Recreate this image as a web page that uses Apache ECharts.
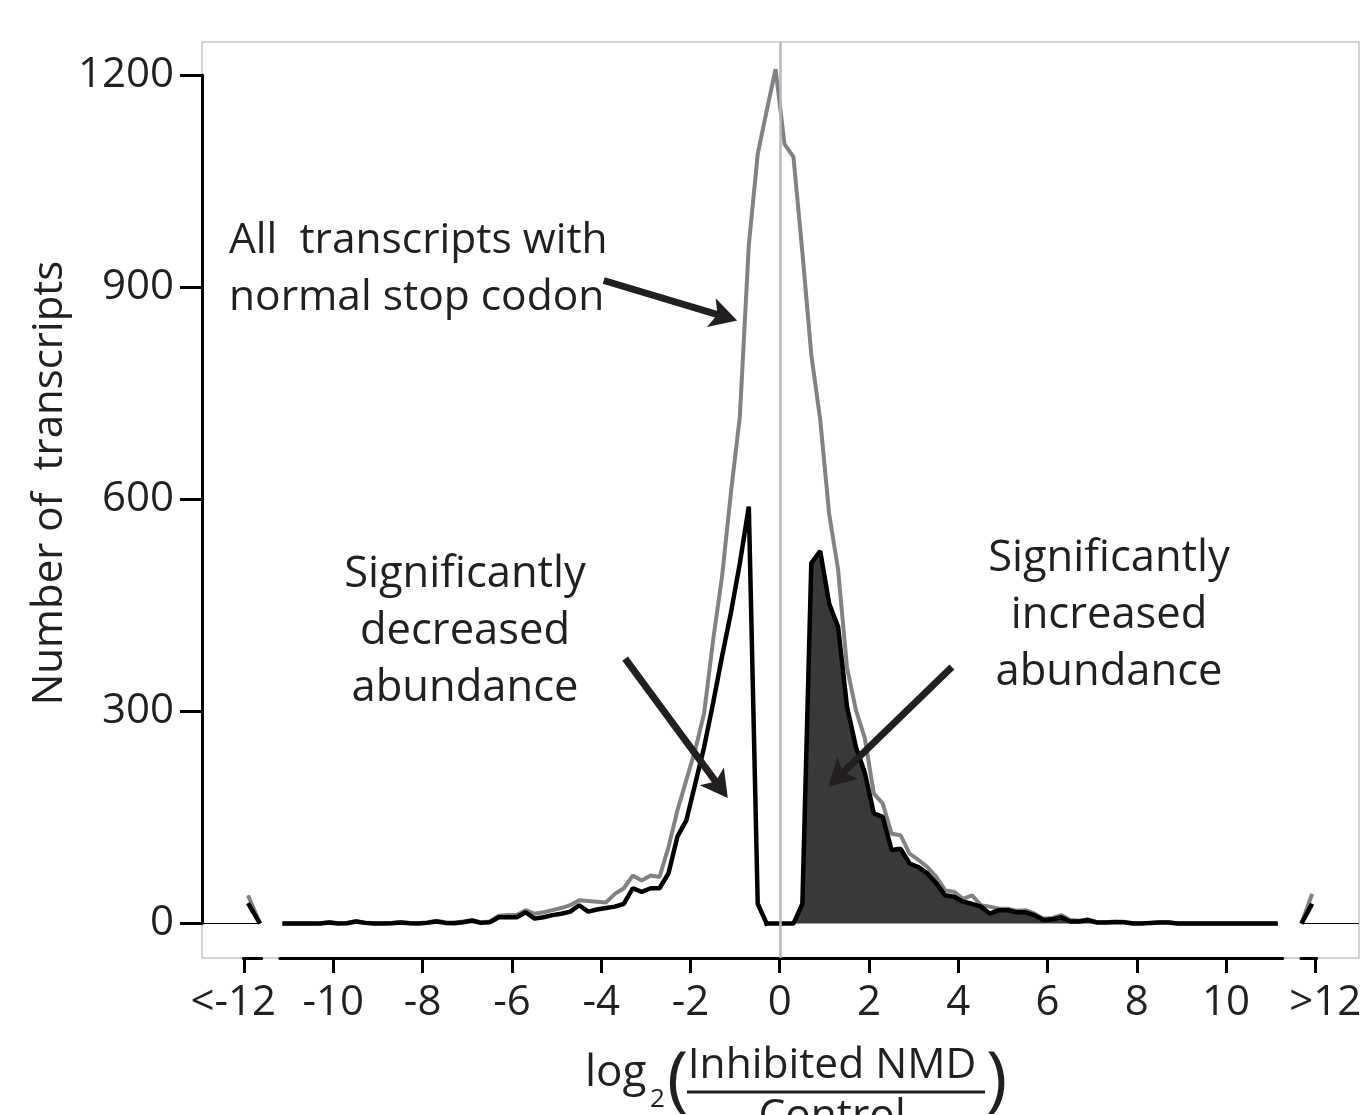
<!DOCTYPE html>
<html>
<head>
<meta charset="utf-8">
<title>log2 NMD ratio histogram</title>
<script src="https://cdn.jsdelivr.net/npm/echarts@6/dist/echarts.min.js"></script>
<style>
  html, body { margin: 0; padding: 0; background: #fff; }
  #chart { width: 1368px; height: 1115px; }
</style>
</head>
<body>
<div id="chart"></div>
<script>
// bin centres, log2(Inhibited NMD / Control), bins 0.2 wide
const binCenters = [
  -11.1, -10.9, -10.7, -10.5, -10.3, -10.1, -9.9, -9.7, -9.5, -9.3,
  -9.1, -8.9, -8.7, -8.5, -8.3, -8.1, -7.9, -7.7, -7.5, -7.3,
  -7.1, -6.9, -6.7, -6.5, -6.3, -6.1, -5.9, -5.7, -5.5, -5.3,
  -5.1, -4.9, -4.7, -4.5, -4.3, -4.1, -3.9, -3.7, -3.5, -3.3,
  -3.1, -2.9, -2.7, -2.5, -2.3, -2.1, -1.9, -1.7, -1.5, -1.3,
  -1.1, -0.9, -0.7, -0.5, -0.3, -0.1, 0.1, 0.3, 0.5, 0.7,
  0.9, 1.1, 1.3, 1.5, 1.7, 1.9, 2.1, 2.3, 2.5, 2.7,
  2.9, 3.1, 3.3, 3.5, 3.7, 3.9, 4.1, 4.3, 4.5, 4.7,
  4.9, 5.1, 5.3, 5.5, 5.7, 5.9, 6.1, 6.3, 6.5, 6.7,
  6.9, 7.1, 7.3, 7.5, 7.7, 7.9, 8.1, 8.3, 8.5, 8.7,
  8.9, 9.1, 9.3, 9.5, 9.7, 9.9, 10.1, 10.3, 10.5, 10.7,
  10.9, 11.1
]

// all transcripts with normal stop codon (grey line)
const allCounts = [
  0, 0, 0, 0, 0.5, 2, 0.5, 1, 3.5, 1.5,
  0.5, 0.5, 1, 2, 1, 0.5, 2, 4, 2, 1.5,
  3, 5, 2, 3, 11, 12, 12, 19, 14, 16,
  19, 22, 26, 33, 32, 31, 30, 42, 50, 68,
  61, 68, 66, 108, 160, 203, 246, 298, 401, 491,
  610, 718, 960, 1089, 1150, 1209, 1103, 1085, 950, 805,
  713, 580, 501, 362, 302, 262, 184, 170, 127, 125,
  99, 90, 80, 66, 47, 45, 35, 40, 26, 24,
  21, 21, 18, 19, 14, 7, 8, 12, 5, 4,
  6, 2, 2, 3, 2.5, 0.5, 0.5, 1, 2, 2,
  0, 0, 0, 0, 0, 0, 0, 0, 0, 0,
  0, 0
]

// significantly changed transcripts (black line)
const sigCounts = [
  0, 0, 0, 0, 0, 1.5, 0, 0.5, 3, 1,
  0, 0, 0.5, 1.5, 0.5, 0, 1, 3, 1, 0.5,
  2, 4, 1, 2, 9, 9, 9, 16, 7, 9,
  12, 14, 17, 26, 17, 20, 22, 24, 28, 50,
  45, 50, 50, 71, 123, 146, 198, 250, 312, 378,
  440, 510, 590, 28, 0, 0, 0, 0, 28, 510,
  527, 453, 420, 307, 250, 213, 156, 151, 104, 106,
  85, 80, 71, 57, 40, 38, 31, 28, 24, 14,
  19, 19, 16, 16, 12, 5, 6, 9, 3, 3,
  5, 1.5, 1.5, 2, 2, 0, 0, 1, 1.5, 1.5,
  0, 0, 0, 0, 0, 0, 0, 0, 0, 0,
  0, 0
]

// the short pieces past the axis breaks (<-12 and >12)
const lowEndX = [-11.92, -11.65]
const lowEndAll = [40, 0]
const lowEndSig = [29, 0]
const highEndX = [11.68, 11.92]
const highEndAll = [0, 42]
const highEndSig = [0, 28]

const xTicks = [-10, -8, -6, -4, -2, 0, 2, 4, 6, 8, 10]
const yTicks = [0, 300, 600, 900, 1200]

// annotation arrows (data coords): tail -> head
const arrowTails = [[-3.95, 910], [-3.47, 375], [3.85, 363]]
const arrowHeads = [[-1.25, 859], [-1.35, 193], [1.30, 207]]

const FONT = 'Open Sans'
const INK = '#231f20'
const GREY = '#808285'
const ARROW_HEAD = 'path://M50,0 L100,92 L50,70 L0,92 Z'

const zip = (xs, ys) => xs.map((x, i) => [x, ys[i]])

const chart = echarts.init(document.getElementById('chart'), null, { renderer: 'canvas' })

const allData = zip(binCenters, allCounts)
const sigData = zip(binCenters, sigCounts)
const sigLeft = sigData.filter(d => d[0] <= -0.3)
const sigRight = sigData.filter(d => d[0] >= -0.3)

const X_MIN = -12.95, X_MAX = 12.97

const lineBase = {
  type: 'line',
  xAxisIndex: 0,
  yAxisIndex: 0,
  symbol: 'none',
  silent: true,
  animation: false
}

const tickLabel = { fontSize: 42, fontFamily: FONT, color: INK }

const option = {
  animation: false,
  grid: [
    // plot box
    { left: 202, right: 9, top: 42, bottom: 157, show: true, borderColor: '#a7a9ac', borderWidth: 1, backgroundColor: 'transparent' },
    // y axis 0..1200
    { left: 202, right: 9, top: 75.3, bottom: 191.7 },
    // x axis pieces: <-12, main, >12
    { left: 243.3, width: 18.4, bottom: 157, height: 10 },
    { left: 279.8, width: 1002.9, bottom: 157, height: 10 },
    { left: 1301, width: 15.6, bottom: 157, height: 10 }
  ],
  xAxis: [
    { gridIndex: 0, type: 'value', min: X_MIN, max: X_MAX, show: false },
    { gridIndex: 1, type: 'value', min: 0, max: 1, show: false },
    {
      gridIndex: 2, type: 'value', min: -12.02, max: -11.61,
      axisLine: { show: true, lineStyle: { color: '#000', width: 3 } },
      axisTick: { show: true, length: 15, lineStyle: { color: '#000', width: 3 }, customValues: [-12] },
      axisLabel: { ...tickLabel, customValues: [-12], formatter: () => '<-12', margin: 24, padding: [0, 22, 0, 0] },
      splitLine: { show: false }
    },
    {
      gridIndex: 3, type: 'value', min: -11.2, max: 11.27,
      axisLine: { show: true, lineStyle: { color: '#000', width: 3 } },
      axisTick: { show: true, length: 15, lineStyle: { color: '#000', width: 3 }, customValues: xTicks },
      axisLabel: { ...tickLabel, customValues: xTicks, formatter: v => String(v), margin: 24 },
      splitLine: { show: false }
    },
    {
      gridIndex: 4, type: 'value', min: 11.68, max: 12.03,
      axisLine: { show: true, lineStyle: { color: '#000', width: 3 } },
      axisTick: { show: true, length: 15, lineStyle: { color: '#000', width: 3 }, customValues: [12] },
      axisLabel: { ...tickLabel, customValues: [12], formatter: () => '>12', margin: 24, padding: [0, 0, 0, 20] },
      splitLine: { show: false }
    }
  ],
  yAxis: [
    { gridIndex: 0, type: 'value', min: -48.7, max: 1247.5, show: false },
    {
      gridIndex: 1, type: 'value', min: 0, max: 1200, interval: 300,
      axisLine: { show: true, lineStyle: { color: '#000', width: 3 } },
      axisTick: { show: true, length: 22, lineStyle: { color: '#000', width: 3 }, customValues: yTicks },
      axisLabel: { ...tickLabel, customValues: yTicks, formatter: v => String(v), margin: 28 },
      splitLine: { show: false }
    },
    { gridIndex: 2, type: 'value', show: false },
    { gridIndex: 3, type: 'value', show: false },
    { gridIndex: 4, type: 'value', show: false }
  ],
  series: [
    {
      ...lineBase,
      name: 'All transcripts',
      z: 2,
      data: allData,
      lineStyle: { color: GREY, width: 4, cap: 'square' },
      markLine: {
        silent: true,
        symbol: 'none',
        label: { show: false },
        lineStyle: { type: 'solid', color: '#000', width: 1.2 },
        data: [
          [{ coord: [X_MIN, 0] }, { coord: [lowEndX[1], 0] }],
          [{ coord: [highEndX[0], 0] }, { coord: [X_MAX, 0] }]
        ]
      }
    },
    { ...lineBase, z: 2, data: zip(lowEndX, lowEndAll), lineStyle: { color: GREY, width: 4 } },
    { ...lineBase, z: 2, data: zip(highEndX, highEndAll), lineStyle: { color: GREY, width: 4 } },
    {
      ...lineBase,
      name: 'Significantly increased',
      z: 3,
      data: sigRight,
      lineStyle: { color: '#000', width: 4.5, cap: 'square' },
      areaStyle: { color: '#383a3a', opacity: 1 }
    },
    {
      ...lineBase,
      name: 'Significantly decreased',
      z: 3,
      data: sigLeft,
      lineStyle: { color: '#000', width: 4.5, cap: 'square' }
    },
    { ...lineBase, z: 3, data: zip(lowEndX, lowEndSig), lineStyle: { color: '#000', width: 4.5 } },
    {
      ...lineBase,
      z: 3,
      data: zip(highEndX, highEndSig),
      lineStyle: { color: '#000', width: 4.5 },
      markLine: {
        silent: true,
        symbol: 'none',
        label: { show: false },
        data: [
          { xAxis: 0, lineStyle: { type: 'solid', color: '#b6b8ba', width: 2.5 } },
          ...arrowTails.map((t, i) => [
            { coord: t, symbol: 'none', lineStyle: { type: 'solid', color: INK, width: 7 } },
            { coord: arrowHeads[i], symbol: ARROW_HEAD, symbolSize: [30, 27] }
          ])
        ]
      }
    }
  ],
  graphic: [
    {
      type: 'text', x: 50, y: 483, rotation: Math.PI / 2, silent: true,
      style: { text: 'Number of  transcripts', fontSize: 42, fontFamily: FONT, fill: INK, align: 'center', verticalAlign: 'middle' }
    },
    {
      type: 'text', x: 229, y: 269, silent: true,
      style: { text: 'All  transcripts with\nnormal stop codon', fontSize: 42.5, lineHeight: 57, fontFamily: FONT, fill: INK, align: 'left', verticalAlign: 'middle' }
    },
    {
      type: 'text', x: 465, y: 632, silent: true,
      style: { text: 'Significantly\ndecreased\nabundance', fontSize: 43.5, lineHeight: 57, fontFamily: FONT, fill: INK, align: 'center', verticalAlign: 'middle' }
    },
    {
      type: 'text', x: 1109, y: 616, silent: true,
      style: { text: 'Significantly\nincreased\nabundance', fontSize: 43.5, lineHeight: 57, fontFamily: FONT, fill: INK, align: 'center', verticalAlign: 'middle' }
    },
    // x axis title: log2( Inhibited NMD / Control )
    {
      type: 'text', x: 585, y: 1073, silent: true,
      style: { text: 'log', fontSize: 44, fontFamily: FONT, fill: INK, align: 'left', verticalAlign: 'middle' }
    },
    {
      type: 'text', x: 650, y: 1100, silent: true,
      style: { text: '2', fontSize: 26, fontFamily: FONT, fill: INK, align: 'left', verticalAlign: 'middle' }
    },
    {
      type: 'text', x: 667, y: 1082, silent: true,
      style: { text: '(', fontSize: 72, fontFamily: FONT, fill: INK, align: 'left', verticalAlign: 'middle' }
    },
    {
      type: 'text', x: 832, y: 1066, silent: true,
      style: { text: 'Inhibited NMD', fontSize: 42.5, fontFamily: FONT, fill: INK, align: 'center', verticalAlign: 'middle' }
    },
    {
      type: 'line', silent: true,
      shape: { x1: 687, y1: 1092, x2: 985, y2: 1092 },
      style: { stroke: INK, lineWidth: 3 }
    },
    {
      type: 'text', x: 832, y: 1095, silent: true,
      style: { text: 'Control', fontSize: 42.5, fontFamily: FONT, fill: INK, align: 'center', verticalAlign: 'top' }
    },
    {
      type: 'text', x: 986, y: 1082, silent: true,
      style: { text: ')', fontSize: 72, fontFamily: FONT, fill: INK, align: 'left', verticalAlign: 'middle' }
    }
  ]
}

chart.setOption(option)
</script>
</body>
</html>
